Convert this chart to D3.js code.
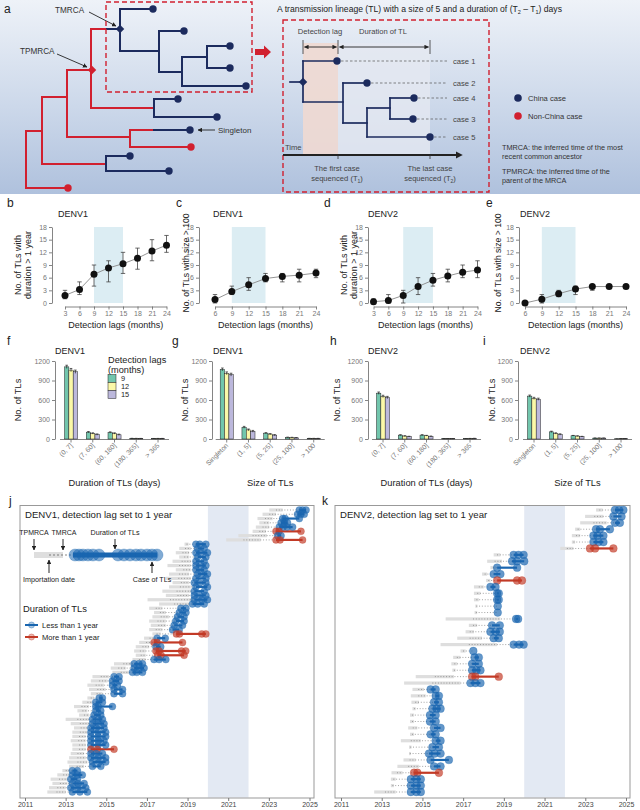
<!DOCTYPE html>
<html>
<head>
<meta charset="utf-8">
<script src="https://cdn.jsdelivr.net/npm/d3@7"></script>
<style>
  body { margin: 0; background: #fff; }
  svg { display: block; font-family: "Liberation Sans", Arial, sans-serif; }
</style>
</head>
<body>
<div id="fig"></div>
<script>
// ---------- data ----------
const lagsDur = [3, 6, 9, 12, 15, 18, 21, 24];
const lagsSize = [6, 9, 12, 15, 18, 21, 24];

const d1LongMean = [1.8, 3.2, 6.8, 8.3, 9.3, 10.6, 12.3, 13.7];
const d1LongLo = [1, 2, 4, 5, 7, 8, 10, 12];
const d1LongHi = [3, 5, 9, 10, 12, 13, 15, 16];

const d1BigMean = [0.8, 2.7, 4.3, 5.8, 6.3, 6.6, 7.1];
const d1BigLo = [0, 2, 3, 5, 5, 5, 6];
const d1BigHi = [2, 4, 6, 7, 7, 8, 8];

const d2LongMean = [0.3, 0.6, 1.8, 3.9, 5.4, 6.4, 7.3, 7.8];
const d2LongLo = [0, 0, 0, 2, 4, 5, 6, 6];
const d2LongHi = [1, 2, 3, 6, 7, 8, 9, 10];

const d2BigMean = [0, 0.9, 2.2, 3.3, 3.9, 3.9, 3.9];
const d2BigLo = [0, 0, 1.5, 2, 3, 3.5, 3.5];
const d2BigHi = [0, 2, 3, 4, 4, 4, 4];

const durCats = ["(0, 7]", "(7, 60]", "(60, 180]", "(180, 365]", "> 365"];
const sizeCats = ["Singleton", "(1, 5]", "(5, 25]", "(25, 100]", "> 100"];
const lagGroups = [9, 12, 15];

// rows = detection lag 9, 12, 15
const d1Dur = [[1110, 105, 100, 8, 5], [1060, 85, 85, 7, 6], [1035, 68, 65, 6, 6]];
const d1DurErr = [25, 10, 10, 3, 3];
const d1Size = [[1070, 180, 90, 25, 8], [1010, 140, 75, 22, 8], [990, 118, 60, 18, 8]];
const d1SizeErr = [22, 14, 8, 4, 2];
const d2Dur = [[705, 60, 60, 4, 4], [655, 45, 50, 4, 7], [638, 36, 40, 4, 9]];
const d2DurErr = [18, 6, 6, 2, 2];
const d2Size = [[660, 110, 50, 14, 3], [625, 85, 45, 14, 4], [612, 70, 36, 14, 5]];
const d2SizeErr = [16, 10, 5, 2, 1];

const yearTicks = [2011, 2013, 2015, 2017, 2019, 2021, 2023, 2025];

// transmission lineages: [TPMRCA, TMRCA, [case dates]]
const denv1TLs = [
  [2023.02, 2023.68, [2024.5, 2024.66, 2024.83]],
  [2022.69, 2023.35, [2024.41, 2024.58, 2024.74]],
  [2022.44, 2023.18, [2023.68, 2023.8, 2024.5]],
  [2022.53, 2023.02, [2023.6, 2023.76, 2023.92]],
  [2022.36, 2023.02, [2023.51, 2023.7, 2023.9, 2024.17]],
  [2022.2, 2022.86, [2023.35, 2023.5, 2024.58]],
  [2021.5, 2022.9, [2023.43, 2023.6]],
  [2020.9, 2022.6, [2023.35, 2023.55, 2024.66]],
  [2018.85, 2019.05, [2019.41, 2019.6, 2019.9]],
  [2018.59, 2019.16, [2019.49, 2019.82]],
  [2018.42, 2019.08, [2019.41, 2019.65, 2019.98]],
  [2018.59, 2019.08, [2019.49, 2019.9]],
  [2018.26, 2019.16, [2019.41, 2019.82]],
  [2018.01, 2019.16, [2019.41, 2019.65, 2019.9]],
  [2018.42, 2019.16, [2019.41, 2019.82]],
  [2018.09, 2019.08, [2019.49, 2019.7, 2019.98]],
  [2017.93, 2019.16, [2019.41, 2019.9]],
  [2018.26, 2019.08, [2019.33, 2019.6, 2019.9]],
  [2018.09, 2019.16, [2019.41, 2019.98]],
  [2017.76, 2019.16, [2019.33, 2019.82]],
  [2017.93, 2019.08, [2019.33, 2019.6, 2019.9]],
  [2017.03, 2019.24, [2019.33, 2019.7, 2019.98]],
  [2017.6, 2019.08, [2019.24, 2019.5, 2019.82]],
  [2017.11, 2017.76, [2018.67, 2018.92]],
  [2017.35, 2017.93, [2018.59, 2018.92]],
  [2017.27, 2018.09, [2018.5, 2018.83]],
  [2017.11, 2017.93, [2018.42, 2018.83]],
  [2017.19, 2017.93, [2018.34, 2018.75]],
  [2017.11, 2017.76, [2018.26, 2018.59]],
  [2017.27, 2017.68, [2018.45, 2018.6, 2019.7, 2019.9]],
  [2016.86, 2017.4, [2017.5, 2017.9]],
  [2016.62, 2017.3, [2017.35, 2017.5, 2018.75]],
  [2016.45, 2017.11, [2017.44, 2017.68]],
  [2016.37, 2016.94, [2017.44, 2017.6, 2018.7, 2018.91]],
  [2016.45, 2016.94, [2017.52, 2017.7, 2018.83]],
  [2016.29, 2016.94, [2017.35, 2017.6, 2017.93]],
  [2015.38, 2016.3, [2016.37, 2016.6, 2016.78]],
  [2015.22, 2015.96, [2016.37, 2016.62, 2016.86]],
  [2015.3, 2016.12, [2016.29, 2016.5, 2016.78]],
  [2014.32, 2015.14, [2015.38, 2015.63]],
  [2014.24, 2015.06, [2015.3, 2015.63]],
  [2014.07, 2014.89, [2015.3, 2015.55]],
  [2014.15, 2014.97, [2015.38, 2015.8]],
  [2014.24, 2014.81, [2015.38, 2015.8]],
  [2014.07, 2014.4, [2014.65, 2014.81]],
  [2013.82, 2014.32, [2014.48, 2014.81]],
  [2013.41, 2014.15, [2014.48, 2014.6, 2015.3]],
  [2013.58, 2014.07, [2014.48, 2014.73]],
  [2013.66, 2014.15, [2014.4, 2014.73]],
  [2013.0, 2014.15, [2014.32, 2014.6, 2014.81]],
  [2013.25, 2014.15, [2014.32, 2014.6, 2014.89]],
  [2013.41, 2014.07, [2014.24, 2014.5, 2014.89]],
  [2013.33, 2014.07, [2014.24, 2014.6, 2014.97]],
  [2013.33, 2013.99, [2014.24, 2014.6, 2014.97]],
  [2013.25, 2013.99, [2014.24, 2014.6, 2014.89]],
  [2013.33, 2013.99, [2014.24, 2014.6, 2014.97]],
  [2013.33, 2013.99, [2014.24, 2014.56, 2015.38]],
  [2013.25, 2013.91, [2014.24, 2014.5, 2014.81]],
  [2013.17, 2013.99, [2014.24, 2014.6, 2014.97]],
  [2013.09, 2014.07, [2014.32, 2014.65, 2014.97]],
  [2013.17, 2013.91, [2014.32, 2014.73]],
  [2012.84, 2013.17, [2013.33, 2013.58]],
  [2012.59, 2013.17, [2013.33, 2013.58, 2013.82]],
  [2012.26, 2013.09, [2013.25, 2013.58]],
  [2012.35, 2013.09, [2013.33, 2013.6, 2013.91]],
  [2012.18, 2013.0, [2013.25, 2013.6, 2013.99]],
  [2012.1, 2013.0, [2013.33, 2013.7, 2014.07]]
];

const denv2TLs = [
  [2023.53, 2023.85, [2024.46, 2024.66, 2024.87]],
  [2022.99, 2023.89, [2024.38, 2024.78]],
  [2022.75, 2024.05, [2024.46, 2024.7]],
  [2022.5, 2022.75, [2023.53, 2023.72, 2024.21]],
  [2022.34, 2022.75, [2023.4, 2023.6, 2023.89]],
  [2022.34, 2022.5, [2023.4, 2023.65, 2023.89]],
  [2021.77, 2022.42, [2023.23, 2023.48, 2024.38]],
  [2018.5, 2018.83, [2019.48, 2019.72, 2019.97]],
  [2018.18, 2018.91, [2019.4, 2019.65, 2020.0]],
  [2018.34, 2018.59, [2018.67, 2019.65]],
  [2017.93, 2018.18, [2018.5, 2018.83]],
  [2018.13, 2018.34, [2018.67, 2019.65, 2019.89]],
  [2017.53, 2018.01, [2018.34, 2018.59]],
  [2017.53, 2017.85, [2018.67, 2018.75]],
  [2017.53, 2017.77, [2018.67, 2018.75]],
  [2017.6, 2017.69, [2018.7]],
  [2017.56, 2017.69, [2018.7]],
  [2016.14, 2018.83, [2019.6, 2019.7]],
  [2017.28, 2017.69, [2018.42, 2018.8]],
  [2017.12, 2017.53, [2018.34, 2018.6, 2018.8]],
  [2016.71, 2017.93, [2018.5, 2018.75]],
  [2015.89, 2018.67, [2019.48, 2019.75, 2019.97]],
  [2016.87, 2017.12, [2017.5]],
  [2016.51, 2016.87, [2017.56, 2017.77]],
  [2016.42, 2016.71, [2017.44, 2017.77]],
  [2016.47, 2016.63, [2017.44, 2017.65, 2017.85]],
  [2014.67, 2016.55, [2017.44, 2017.6, 2018.75]],
  [2014.1, 2016.87, [2017.36, 2017.6, 2017.85]],
  [2014.51, 2015.08, [2015.4, 2015.65]],
  [2014.43, 2015.16, [2015.65, 2015.81]],
  [2014.46, 2014.83, [2015.57, 2015.81]],
  [2014.51, 2014.67, [2015.49, 2015.7, 2015.89]],
  [2014.39, 2014.59, [2015.37, 2015.65]],
  [2014.39, 2014.59, [2015.37, 2015.65]],
  [2014.3, 2014.75, [2015.57, 2015.89]],
  [2014.39, 2014.59, [2015.4, 2015.65]],
  [2013.94, 2014.92, [2015.65, 2015.89]],
  [2014.34, 2014.46, [2015.49, 2015.81]],
  [2014.34, 2014.42, [2015.32, 2015.6, 2015.89]],
  [2014.07, 2014.67, [2015.4, 2016.3]],
  [2013.77, 2014.83, [2015.57, 2015.89]],
  [2013.48, 2014.02, [2014.59, 2014.75, 2015.81]],
  [2013.45, 2013.69, [2014.43, 2014.7, 2014.92]],
  [2013.45, 2013.6, [2014.43, 2014.7, 2014.92]],
  [2012.63, 2013.69, [2014.43, 2014.7, 2014.92]]
];

// ---------- colours ----------
const navy = "#1c2b5e", treeRed = "#d1202f";
const blue = "#1a66b0", red = "#c23a26";
const lagColours = ["#72c6ad", "#fbf8a8", "#bcb8dc"];

const svg = d3.select("#fig").append("svg").attr("width", 640).attr("height", 810);
svg.append("rect").attr("width", 640).attr("height", 810).attr("fill", "#fff");
const defs = svg.append("defs");

const grad = defs.append("linearGradient").attr("id", "bgA").attr("x1", 0).attr("y1", 0).attr("x2", 0).attr("y2", 1);
grad.append("stop").attr("offset", "0%").attr("stop-color", "#eef2f8");
grad.append("stop").attr("offset", "55%").attr("stop-color", "#ccd8ea");
grad.append("stop").attr("offset", "100%").attr("stop-color", "#afc1dd");

defs.append("marker").attr("id", "arr").attr("viewBox", "0 0 10 10").attr("refX", 9).attr("refY", 5)
  .attr("markerWidth", 5).attr("markerHeight", 5).attr("orient", "auto-start-reverse")
  .append("path").attr("d", "M0,0L10,5L0,10Z").attr("fill", "#222");
defs.append("marker").attr("id", "arrBig").attr("viewBox", "0 0 10 10").attr("refX", 2).attr("refY", 5)
  .attr("markerWidth", 4).attr("markerHeight", 4).attr("orient", "auto")
  .append("path").attr("d", "M0,0L10,5L0,10Z").attr("fill", "#222");

const txt = (g, x, y, s, size, opts = {}) => g.append("text")
  .attr("x", x).attr("y", y).attr("font-size", size)
  .attr("fill", opts.fill || "#222")
  .attr("text-anchor", opts.anchor || "start")
  .attr("font-weight", opts.weight || "normal")
  .text(s);

// ================= PANEL A =================
const pa = svg.append("g");
pa.append("rect").attr("width", 640).attr("height", 194).attr("fill", "url(#bgA)");
txt(pa, 4, 13, "a", 12);

const redLinks = [
  [26, 131, 26, 188], [26, 131, 42, 131], [26, 188, 66, 188],
  [42, 97, 42, 164], [42, 97, 67, 97], [42, 164, 106, 164],
  [67, 70, 67, 137], [67, 70, 91, 70], [67, 137, 130, 137],
  [91, 29, 91, 108], [91, 29, 107, 29], [91, 108, 154, 108],
  [130, 130, 130, 147], [130, 130, 154, 130], [130, 147, 190, 147]
];
const navyLinks = [
  [107, 29, 120, 29],
  [154, 99, 154, 117], [154, 99, 178, 99], [154, 117, 217, 117],
  [154, 130, 190, 130],
  [106, 156, 106, 171], [106, 156, 130, 156], [106, 171, 169, 171],
  [120, 9, 120, 51], [120, 9, 153, 9], [120, 51, 159, 51], [159, 31, 159, 72], [159, 31, 184, 31],
  [159, 72, 182, 72], [182, 57, 182, 86], [182, 57, 207, 57], [207, 46, 207, 68],
  [207, 46, 230, 46], [207, 68, 230, 68], [182, 86, 246, 86]
];
const navyTips = [[153, 9], [184, 31], [230, 46], [230, 68], [246, 86], [178, 99], [217, 117], [190, 130], [130, 156], [169, 171]];
const redTips = [[191, 147], [68, 188]];

const drawLinks = (g, links, col, w) => g.selectAll(null).data(links).join("line")
  .attr("x1", d => d[0]).attr("y1", d => d[1]).attr("x2", d => d[2]).attr("y2", d => d[3])
  .attr("stroke", col).attr("stroke-width", w).attr("stroke-linecap", "square");

drawLinks(pa, redLinks, treeRed, 2);
drawLinks(pa, navyLinks, navy, 2);
pa.selectAll(null).data(navyTips).join("circle").attr("cx", d => d[0]).attr("cy", d => d[1]).attr("r", 3.7).attr("fill", navy);
pa.selectAll(null).data(redTips).join("circle").attr("cx", d => d[0]).attr("cy", d => d[1]).attr("r", 3.7).attr("fill", treeRed);

const diamond = d3.symbol(d3.symbolSquare, 36);
pa.append("path").attr("d", diamond()).attr("transform", "translate(120,29) rotate(45)").attr("fill", navy);
pa.append("path").attr("d", diamond()).attr("transform", "translate(92,70) rotate(45)").attr("fill", treeRed);

txt(pa, 55, 13, "TMRCA", 8.2, { fill: "#333" });
pa.append("line").attr("x1", 89).attr("y1", 12).attr("x2", 116).attr("y2", 26).attr("stroke", "#222").attr("stroke-width", 0.9).attr("marker-end", "url(#arr)");
txt(pa, 20, 54, "TPMRCA", 8.2, { fill: "#333" });
pa.append("line").attr("x1", 57).attr("y1", 54).attr("x2", 87).attr("y2", 67).attr("stroke", "#222").attr("stroke-width", 0.9).attr("marker-end", "url(#arr)");
pa.append("line").attr("x1", 215).attr("y1", 130).attr("x2", 198).attr("y2", 130).attr("stroke", "#222").attr("stroke-width", 0.9).attr("marker-end", "url(#arr)");
txt(pa, 218, 133, "Singleton", 8, { fill: "#333" });

pa.append("rect").attr("x", 106).attr("y", 2).attr("width", 146).attr("height", 90)
  .attr("fill", "none").attr("stroke", treeRed).attr("stroke-width", 1.4).attr("stroke-dasharray", "5,3");
pa.append("polygon").attr("points", "255,49 264,49 264,45.5 271,52 264,58.5 264,55 255,55").attr("fill", treeRed);
pa.append("rect").attr("x", 283).attr("y", 20).attr("width", 206).attr("height", 172)
  .attr("fill", "none").attr("stroke", treeRed).attr("stroke-width", 1.4).attr("stroke-dasharray", "5,3");

const title = pa.append("text").attr("x", 277).attr("y", 12).attr("font-size", 8.6).attr("fill", "#222");
title.append("tspan").text("A transmission lineage (TL) with a size of 5 and a duration of (T");
title.append("tspan").attr("font-size", 5.5).attr("dy", 2).text("2");
title.append("tspan").attr("dy", -2).text(" – T");
title.append("tspan").attr("font-size", 5.5).attr("dy", 2).text("1");
title.append("tspan").attr("dy", -2).text(") days");

// schematic of one lineage
pa.append("rect").attr("x", 303).attr("y", 43).attr("width", 35).attr("height", 112).attr("fill", "#efd9d2").attr("opacity", 0.9);
pa.append("rect").attr("x", 338).attr("y", 43).attr("width", 92).attr("height", 112).attr("fill", "#e5e8f1").attr("opacity", 0.8);
txt(pa, 320, 34, "Detection lag", 7.6, { anchor: "middle", fill: "#444" });
txt(pa, 383, 34, "Duration of TL", 7.6, { anchor: "middle", fill: "#444" });
[303, 338, 430].forEach(x => pa.append("line").attr("x1", x).attr("x2", x).attr("y1", 40).attr("y2", 54).attr("stroke", "#333").attr("stroke-width", 0.8));
pa.append("line").attr("x1", 304.5).attr("x2", 336.5).attr("y1", 47).attr("y2", 47).attr("stroke", "#222").attr("stroke-width", 0.9)
  .attr("marker-start", "url(#arr)").attr("marker-end", "url(#arr)");
pa.append("line").attr("x1", 339.5).attr("x2", 428.5).attr("y1", 47).attr("y2", 47).attr("stroke", "#222").attr("stroke-width", 0.9)
  .attr("marker-start", "url(#arr)").attr("marker-end", "url(#arr)");

const tlLinks = [[290, 82, 303, 82], [303, 61, 303, 102], [303, 61, 337, 61], [303, 102, 343, 102], [343, 83, 343, 123],
  [343, 83, 367, 83], [343, 123, 367, 123], [367, 108, 367, 137], [367, 108, 390, 108], [390, 98, 390, 119],
  [390, 98, 414, 98], [390, 119, 413, 119], [367, 137, 430, 137]];
const tlCases = [["case 1", 337, 61], ["case 2", 367, 83], ["case 4", 414, 98], ["case 3", 413, 119], ["case 5", 430, 137]];
tlCases.forEach(([lab, x, y]) => {
  pa.append("line").attr("x1", x + 4).attr("x2", 447).attr("y1", y).attr("y2", y).attr("stroke", "#555").attr("stroke-width", 0.7).attr("stroke-dasharray", "2.5,2");
  txt(pa, 453, y + 2.7, lab, 7.6, { fill: "#444" });
});
drawLinks(pa, tlLinks, navy, 1.7);
pa.selectAll(null).data(tlCases).join("circle").attr("cx", d => d[1]).attr("cy", d => d[2]).attr("r", 3.7).attr("fill", navy);
pa.append("path").attr("d", diamond()).attr("transform", "translate(303,82) rotate(45)").attr("fill", navy);

txt(pa, 285, 150, "Time", 7.6, { fill: "#444" });
pa.append("line").attr("x1", 283).attr("x2", 457).attr("y1", 155).attr("y2", 155).attr("stroke", "#222").attr("stroke-width", 1.8).attr("marker-end", "url(#arrBig)");
[338, 430].forEach(x => pa.append("line").attr("x1", x).attr("x2", x).attr("y1", 155).attr("y2", 159).attr("stroke", "#333").attr("stroke-width", 0.8));
const sub = (x, y, a, s) => {
  const t = pa.append("text").attr("x", x).attr("y", y).attr("font-size", 7.6).attr("fill", "#444").attr("text-anchor", "middle");
  t.append("tspan").text(a);
  t.append("tspan").attr("font-size", 5).attr("dy", 1.5).text(s);
  t.append("tspan").attr("dy", -1.5).text(")");
};
txt(pa, 337, 171, "The first case", 7.6, { anchor: "middle", fill: "#444" });
sub(337, 181, "sequenced (T", "1");
txt(pa, 430, 171, "The last case", 7.6, { anchor: "middle", fill: "#444" });
sub(430, 181, "sequenced (T", "2");

pa.append("circle").attr("cx", 518).attr("cy", 98).attr("r", 3.8).attr("fill", navy);
pa.append("circle").attr("cx", 518).attr("cy", 116).attr("r", 3.8).attr("fill", treeRed);
txt(pa, 528, 101, "China case", 7.6, { fill: "#333" });
txt(pa, 528, 119, "Non-China case", 7.6, { fill: "#333" });
txt(pa, 502, 150, "TMRCA: the inferred time of the most", 7.3, { fill: "#333" });
txt(pa, 502, 159, "recent common ancestor", 7.3, { fill: "#333" });
txt(pa, 502, 174, "TPMRCA: the inferred time of the", 7.3, { fill: "#333" });
txt(pa, 502, 183, "parent of the MRCA", 7.3, { fill: "#333" });

// ================= PANELS B-E =================
const styleAxis = g => {
  g.select(".domain").attr("stroke", "#666").attr("stroke-width", 0.8);
  g.selectAll(".tick line").attr("stroke", "#666").attr("stroke-width", 0.8);
  g.selectAll(".tick text").attr("fill", "#777").attr("font-size", 7).attr("font-family", "Liberation Sans, Arial, sans-serif");
};

const linePanel = cfg => {
  const g = svg.append("g");
  const x = d3.scaleLinear().domain([cfg.lags[0], 24]).range([cfg.x0, cfg.x1]);
  const y = d3.scaleLinear().domain([0, 18]).range([303, 227]);
  g.append("rect").attr("x", x(9)).attr("width", x(15) - x(9)).attr("y", y(18)).attr("height", y(0) - y(18)).attr("fill", "#dcedf3");
  g.append("g").attr("transform", `translate(${cfg.ax},0)`)
    .call(d3.axisLeft(y).tickValues([0, 3, 6, 9, 12, 15, 18]).tickSize(3).tickSizeOuter(0).tickPadding(2)).call(styleAxis);
  g.append("g").attr("transform", "translate(0,306.5)")
    .call(d3.axisBottom(x).tickValues(cfg.lags).tickSize(3).tickSizeOuter(0).tickPadding(2)).call(styleAxis);
  const pts = cfg.lags.map((l, i) => ({ l, m: cfg.mean[i], lo: cfg.lo[i], hi: cfg.hi[i] }));
  g.append("path").datum(pts).attr("d", d3.line().x(d => x(d.l)).y(d => y(d.m)))
    .attr("fill", "none").attr("stroke", "#888").attr("stroke-width", 0.9);
  const eb = g.selectAll(null).data(pts.filter(d => d.hi > d.lo)).join("g").attr("stroke", "#444").attr("stroke-width", 0.8);
  eb.append("line").attr("x1", d => x(d.l)).attr("x2", d => x(d.l)).attr("y1", d => y(d.lo)).attr("y2", d => y(d.hi));
  eb.append("line").attr("x1", d => x(d.l) - 2.2).attr("x2", d => x(d.l) + 2.2).attr("y1", d => y(d.lo)).attr("y2", d => y(d.lo));
  eb.append("line").attr("x1", d => x(d.l) - 2.2).attr("x2", d => x(d.l) + 2.2).attr("y1", d => y(d.hi)).attr("y2", d => y(d.hi));
  g.selectAll(null).data(pts).join("circle").attr("cx", d => x(d.l)).attr("cy", d => y(d.m)).attr("r", 3.5).attr("fill", "#111");
  txt(g, cfg.letterX, 207, cfg.letter, 12);
  txt(g, cfg.titleX, 217, cfg.title, 9);
  cfg.ylab.forEach((s, i) => g.append("text").attr("transform", `translate(${cfg.ylabX + i * 9.5},${cfg.ylabY}) rotate(-90)`)
    .attr("text-anchor", "middle").attr("font-size", cfg.ylabSize).attr("fill", "#222").text(s));
  txt(g, (cfg.x0 + cfg.x1) / 2, 327.5, "Detection lags (months)", 9, { anchor: "middle" });
};

linePanel({ lags: lagsDur, mean: d1LongMean, lo: d1LongLo, hi: d1LongHi, x0: 65, x1: 166.5, ax: 52,
  letter: "b", letterX: 7, title: "DENV1", titleX: 58, ylab: ["No. of TLs with", "duration > 1 year"], ylabX: 21, ylabY: 265, ylabSize: 9 });
linePanel({ lags: lagsSize, mean: d1BigMean, lo: d1BigLo, hi: d1BigHi, x0: 215, x1: 316, ax: 199,
  letter: "c", letterX: 176, title: "DENV1", titleX: 213, ylab: ["No. of TLs with size > 100"], ylabX: 189, ylabY: 263, ylabSize: 8.6 });
linePanel({ lags: lagsDur, mean: d2LongMean, lo: d2LongLo, hi: d2LongHi, x0: 373.5, x1: 477.5, ax: 368,
  letter: "d", letterX: 324, title: "DENV2", titleX: 368, ylab: ["No. of TLs with", "duration > 1 year"], ylabX: 347, ylabY: 265, ylabSize: 9 });
linePanel({ lags: lagsSize, mean: d2BigMean, lo: d2BigLo, hi: d2BigHi, x0: 525, x1: 626, ax: 519,
  letter: "e", letterX: 486, title: "DENV2", titleX: 520, ylab: ["No. of TLs with size > 100"], ylabX: 501, ylabY: 263, ylabSize: 8.6 });

// ================= PANELS F-I =================
const barPanel = cfg => {
  const g = svg.append("g");
  const x = d3.scaleBand().domain(cfg.cats).range([cfg.r0, cfg.r0 + 5.4 * 21.75]).paddingInner(0.4).paddingOuter(0.4);
  const xs = d3.scaleBand().domain(lagGroups).range([0, x.bandwidth()]);
  const y = d3.scaleLinear().domain([0, 1200]).range([439, 361]);
  g.append("g").attr("transform", `translate(${cfg.ax},0)`)
    .call(d3.axisLeft(y).tickValues([0, 300, 600, 900, 1200]).tickFormat(d3.format("d")).tickSize(3).tickSizeOuter(0).tickPadding(2)).call(styleAxis);
  const c0 = x(cfg.cats[0]) + x.bandwidth() / 2, c1 = x(cfg.cats[4]) + x.bandwidth() / 2;
  g.append("line").attr("x1", c0 - 11).attr("x2", c1 + 11).attr("y1", 439.5).attr("y2", 439.5).attr("stroke", "#666").attr("stroke-width", 0.8);
  cfg.cats.forEach(c => {
    const cx = x(c) + x.bandwidth() / 2;
    g.append("line").attr("x1", cx).attr("x2", cx).attr("y1", 439.5).attr("y2", 442.5).attr("stroke", "#666").attr("stroke-width", 0.8);
    g.append("text").attr("transform", `translate(${cx + 2},${446}) rotate(-45)`).attr("text-anchor", "end")
      .attr("font-size", 6.8).attr("fill", "#777").text(c);
  });
  lagGroups.forEach((lag, li) => {
    const bars = cfg.cats.map((c, ci) => ({ c, v: cfg.values[li][ci], e: cfg.err[ci] }));
    g.selectAll(null).data(bars).join("rect")
      .attr("x", d => x(d.c) + xs(lag)).attr("width", xs.bandwidth())
      .attr("y", d => y(d.v)).attr("height", d => y(0) - y(d.v))
      .attr("fill", lagColours[li]).attr("stroke", "#222").attr("stroke-width", 0.5);
    const eb = g.selectAll(null).data(bars).join("g").attr("stroke", "#222").attr("stroke-width", 0.7);
    const cxs = d => x(d.c) + xs(lag) + xs.bandwidth() / 2;
    eb.append("line").attr("x1", cxs).attr("x2", cxs).attr("y1", d => y(d.v - d.e)).attr("y2", d => y(d.v + d.e));
    eb.append("line").attr("x1", d => cxs(d) - 1.3).attr("x2", d => cxs(d) + 1.3).attr("y1", d => y(d.v + d.e)).attr("y2", d => y(d.v + d.e));
  });
  txt(g, cfg.letterX, 345, cfg.letter, 12);
  txt(g, cfg.titleX, 354, cfg.title, 9);
  g.append("text").attr("transform", `translate(${cfg.ylabX},400) rotate(-90)`).attr("text-anchor", "middle")
    .attr("font-size", 9.3).attr("fill", "#222").text("No. of TLs");
  txt(g, (c0 + c1) / 2, 485.5, cfg.xlab, 9.3, { anchor: "middle" });
  return g;
};

const fPanel = barPanel({ cats: durCats, values: d1Dur, err: d1DurErr, r0: 55.8, ax: 55, letter: "f", letterX: 7,
  title: "DENV1", titleX: 55, ylabX: 21, xlab: "Duration of TLs (days)" });
barPanel({ cats: sizeCats, values: d1Size, err: d1SizeErr, r0: 211.5, ax: 212, letter: "g", letterX: 172,
  title: "DENV1", titleX: 213, ylabX: 188, xlab: "Size of TLs" });
barPanel({ cats: durCats, values: d2Dur, err: d2DurErr, r0: 367.8, ax: 368, letter: "h", letterX: 330,
  title: "DENV2", titleX: 368, ylabX: 340, xlab: "Duration of TLs (days)" });
barPanel({ cats: sizeCats, values: d2Size, err: d2SizeErr, r0: 518.8, ax: 518, letter: "i", letterX: 483,
  title: "DENV2", titleX: 520, ylabX: 495, xlab: "Size of TLs" });

// legend for detection lags
txt(fPanel, 108, 363, "Detection lags", 9.2);
txt(fPanel, 108, 372.5, "(months)", 9.2);
lagGroups.forEach((lag, i) => {
  fPanel.append("rect").attr("x", 108).attr("y", 374.5 + i * 8).attr("width", 8).attr("height", 8)
    .attr("fill", lagColours[i]).attr("stroke", "#222").attr("stroke-width", 0.5);
  txt(fPanel, 121, 381 + i * 8, String(lag), 7.4);
});

// ================= PANELS J-K =================
const lineagePanel = cfg => {
  const g = svg.append("g");
  const x = d3.scaleLinear().domain([2011, 2025]).range(cfg.range);
  const y = d3.scalePoint().domain(d3.range(cfg.rows.length)).range([510, 792]);
  g.append("rect").attr("x", x(2020)).attr("width", x(2022) - x(2020)).attr("y", 505.5).attr("height", 292).attr("fill", "#e3e9f3");
  g.append("rect").attr("x", cfg.box[0]).attr("y", 505.5).attr("width", cfg.box[1] - cfg.box[0]).attr("height", 292.5)
    .attr("fill", "none").attr("stroke", "#999").attr("stroke-width", 1);
  const ax = g.append("g").attr("transform", "translate(0,798)")
    .call(d3.axisBottom(x).tickValues(yearTicks).tickFormat(d3.format("d")).tickSize(3).tickPadding(1.5));
  ax.select(".domain").remove();
  ax.selectAll(".tick line").attr("stroke", "#777");
  ax.selectAll(".tick text").attr("fill", "#444").attr("font-size", 7).attr("font-family", "Liberation Sans, Arial, sans-serif");

  const rows = cfg.rows.map((r, i) => ({ i, tp: r[0], tm: r[1], cases: r[2],
    col: (r[2][r[2].length - 1] - r[2][0]) > 1 ? red : blue }));
  g.selectAll(null).data(rows).join("rect")
    .attr("x", d => x(d.tp)).attr("width", d => Math.max(2, x(d.tm) - x(d.tp)))
    .attr("y", d => y(d.i) - 1.6).attr("height", 3.2).attr("fill", "#dedede");
  g.selectAll(null).data(rows).join("line")
    .attr("x1", d => (x(d.tp) + x(d.tm)) / 2).attr("x2", d => x(d.cases[0]))
    .attr("y1", d => y(d.i)).attr("y2", d => y(d.i))
    .attr("stroke", "#666").attr("stroke-width", 0.6).attr("stroke-dasharray", "1,1.8");
  g.selectAll(null).data(rows.filter(d => d.cases.length > 1)).join("line")
    .attr("x1", d => x(d.cases[0])).attr("x2", d => x(d.cases[d.cases.length - 1]))
    .attr("y1", d => y(d.i)).attr("y2", d => y(d.i))
    .attr("stroke", d => d.col).attr("stroke-width", 2.2);
  const pts = rows.flatMap(d => d.cases.map(c => ({ i: d.i, c, col: d.col })));
  g.selectAll(null).data(pts).join("circle")
    .attr("cx", d => x(d.c)).attr("cy", d => y(d.i)).attr("r", cfg.r)
    .attr("fill", d => d.col).attr("fill-opacity", 0.68)
    .attr("stroke", d => d.col).attr("stroke-opacity", 0.3).attr("stroke-width", 0.9);
  txt(g, cfg.letterX, 505, cfg.letter, 12);
  txt(g, cfg.box[0] + 5, 518, cfg.title, 9.6);
  return g;
};

const jPanel = lineagePanel({ rows: denv1TLs, range: [25, 309.5], box: [20, 314], r: 3.5, letter: "j", letterX: 9,
  title: "DENV1, detection lag set to 1 year" });
lineagePanel({ rows: denv2TLs, range: [341, 626], box: [335, 630], r: 3.9, letter: "k", letterX: 322,
  title: "DENV2, detection lag set to 1 year" });

// inset key inside panel j
const keyCases = [75, 79, 83, 88, 93, 99, 118, 124, 130, 136, 141, 147, 152, 157];
jPanel.append("rect").attr("x", 34).attr("y", 552).attr("width", 29).attr("height", 6).attr("fill", "#dedede");
jPanel.append("line").attr("x1", 49).attr("x2", 73).attr("y1", 555).attr("y2", 555).attr("stroke", "#555").attr("stroke-width", 0.7).attr("stroke-dasharray", "2,2");
jPanel.append("line").attr("x1", 73).attr("x2", 157).attr("y1", 555).attr("y2", 555).attr("stroke", blue).attr("stroke-width", 5);
jPanel.selectAll(null).data(keyCases).join("circle").attr("cx", d => d).attr("cy", 555).attr("r", 6)
  .attr("fill", blue).attr("fill-opacity", 0.55).attr("stroke", blue).attr("stroke-opacity", 0.3);
const keyArrow = (x, y1, y2) => jPanel.append("line").attr("x1", x).attr("x2", x).attr("y1", y1).attr("y2", y2)
  .attr("stroke", "#111").attr("stroke-width", 0.9).attr("marker-end", "url(#arr)");
txt(jPanel, 34, 535, "TPMRCA", 7, { anchor: "middle" });
txt(jPanel, 64, 535, "TMRCA", 7, { anchor: "middle" });
txt(jPanel, 115, 535, "Duration of TLs", 7.2, { anchor: "middle" });
keyArrow(34, 539, 550); keyArrow(63, 539, 550); keyArrow(115, 539, 549);
keyArrow(49, 573, 560); keyArrow(152, 573, 562);
txt(jPanel, 49, 582, "Importation date", 7.2, { anchor: "middle" });
txt(jPanel, 152, 582, "Case of TLs", 7.2, { anchor: "middle" });

txt(jPanel, 23, 612, "Duration of TLs", 9.4);
[["Less than 1 year", blue, 625], ["More than 1 year", red, 637]].forEach(([lab, col, y]) => {
  jPanel.append("line").attr("x1", 25).attr("x2", 38).attr("y1", y).attr("y2", y).attr("stroke", col).attr("stroke-width", 2);
  jPanel.append("circle").attr("cx", 31.5).attr("cy", y).attr("r", 3).attr("fill", col).attr("fill-opacity", 0.35)
    .attr("stroke", col).attr("stroke-opacity", 0.4);
  txt(jPanel, 42, y + 3, lab, 7.6);
});
</script>
</body>
</html>
